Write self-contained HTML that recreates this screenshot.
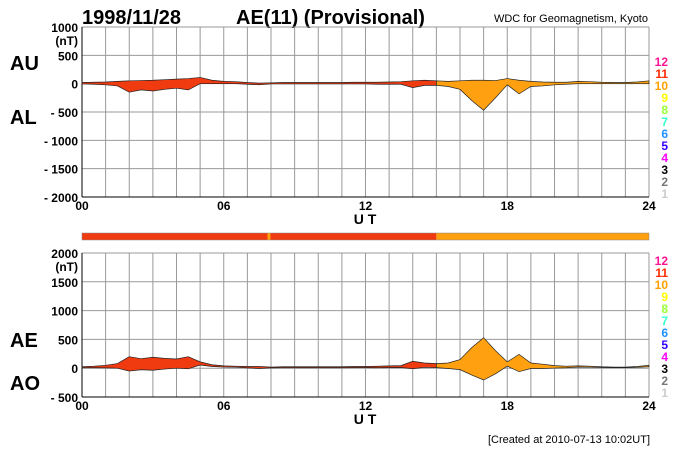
<!DOCTYPE html>
<html><head><meta charset="utf-8"><style>
body{margin:0;background:#fff;width:700px;height:450px;overflow:hidden}
svg text{font-family:"Liberation Sans",Arial,sans-serif;font-weight:bold}
</style></head><body>
<svg id="s" width="700" height="450" xmlns="http://www.w3.org/2000/svg">
<text x="82" y="24" font-size="20">1998/11/28</text>
<text x="236" y="24" font-size="20">AE(11) (Provisional)</text>
<text x="648" y="22" font-size="11" text-anchor="end" style="font-weight:normal">WDC for Geomagnetism, Kyoto</text>
<text x="10" y="70" font-size="20">AU</text>
<text x="10" y="124" font-size="20">AL</text>
<text x="10" y="347" font-size="20">AE</text>
<text x="10" y="390" font-size="20">AO</text>
<text x="650" y="443" font-size="11" text-anchor="end" style="font-weight:normal">[Created at 2010-07-13 10:02UT]</text>
</svg>
<script>
const hours=[0,0.5,1,1.5,2,2.5,3,3.5,4,4.5,5,5.5,6,6.5,7,7.5,8,8.5,9,9.5,10,10.5,11,11.5,12,12.5,13,13.5,14,14.5,15,15.5,16,16.5,17,17.5,18,18.5,19,19.5,20,20.5,21,21.5,22,22.5,23,23.5,24];
const au=[20,25,30,40,50,55,60,70,80,90,110,60,40,35,20,10,15,20,20,20,20,20,20,25,25,25,30,35,50,60,50,40,50,60,60,55,90,60,40,30,25,25,40,35,25,20,20,30,50];
const al=[-5,-10,-20,-40,-150,-110,-130,-100,-80,-110,0,0,0,0,-10,-20,-5,-5,-5,-5,-5,-5,-5,-5,-5,-10,-10,-10,-70,-30,-30,-50,-100,-300,-470,-250,-20,-180,-50,-40,-20,-10,0,0,0,0,0,0,0];
const xTicks=["00","06","12","18","24"];
const topTicks=[1000,500,0,-500,-1000,-1500,-2000];
const botTicks=[2000,1500,1000,500,0,-500];
const levels=["12","11","10","9","8","7","6","5","4","3","2","1"];
const levelColors=["#ff1493","#ff2a00","#ffa000","#ffff00","#99ff33","#33ffcc","#1e90ff","#3300ff","#ff00ff","#000","#777","#ccc"];
const NS="http://www.w3.org/2000/svg",S=document.getElementById('s');
const X0=82,X1=649;
const x=h=>X0+(X1-X0)*h/24;
function mk(t,a,p){const e=document.createElementNS(NS,t);for(const k in a)e.setAttribute(k,a[k]);(p||S).appendChild(e);return e;}
function txt(s,a,name){const e=mk('text',a);e.textContent=s;

return e;}
function panel(top,bot,vmax,vmin,ticks,upper,lower,nm,legY){
 const y=v=>top+(vmax-v)/(vmax-vmin)*(bot-top);
 const g=mk('g',{});
 
 
 for(let h=0;h<=24;h++)mk('line',{x1:x(h),x2:x(h),y1:top,y2:bot,stroke:'#999','stroke-width':1},g);
 for(let v=vmin;v<=vmax;v+=500)mk('line',{x1:X0,x2:X1,y1:y(v),y2:y(v),stroke:'#999','stroke-width':1},g);
 mk('line',{x1:X0,x2:X0,y1:top,y2:bot,stroke:'#000','stroke-width':1},g);
 mk('line',{x1:X0,x2:X1,y1:bot,y2:bot,stroke:'#000','stroke-width':1},g);
 [[0,15,'#f03a10'],[15,24,'#ffa010']].forEach(([a,b,c])=>{
  const idx=hours.map((h,i)=>i).filter(i=>hours[i]>=a&&hours[i]<=b);
  let d='M'+idx.map(i=>x(hours[i])+','+y(upper[i])).join(' L')+' L'+idx.slice().reverse().map(i=>x(hours[i])+','+y(lower[i])).join(' L')+'Z';
  const p=mk('path',{d:d,fill:c,stroke:'#222','stroke-width':0.7},g);
  
  
 });
 ticks.forEach(v=>{txt((v<0?'- ':'')+Math.abs(v),{x:78,y:y(v)+5,'font-size':12,'text-anchor':'end'},'y-tick-label');});
 txt('(nT)',{x:78,y:y(vmax)+18,'font-size':12,'text-anchor':'end'},'y-unit');
 xTicks.forEach((t,i)=>txt(t,{x:x(i*6),y:bot+13,'font-size':12,'text-anchor':'middle'},'x-tick-label'));
 txt('U T',{x:365,y:bot+27,'font-size':14,'text-anchor':'middle'},'x-axis-title');
 levels.forEach((l,i)=>txt(l,{x:668,y:legY+i*12,'font-size':12,'text-anchor':'end',fill:levelColors[i]},'level-legend'));
}
panel(27,197,1000,-2000,topTicks,au,al,'au-al',66);
const ae=au.map((v,i)=>v-al[i]),ao=au.map((v,i)=>(v+al[i])/2);
panel(253,397,2000,-500,botTicks,ae,ao,'ae-ao',265);
const bar=mk('g',{});


mk('rect',{x:x(0),y:233,width:x(15)-x(0),height:7,fill:'#f03a10'},bar);
mk('rect',{x:x(15),y:233,width:x(24)-x(15),height:7,fill:'#ffa010'},bar);
mk('rect',{x:x(7.85),y:233,width:3,height:7,fill:'#ffa010'},bar);
mk('rect',{x:x(0),y:233,width:x(24)-x(0),height:7,fill:'none',stroke:'#888','stroke-width':0.5},bar);
</script>
</body></html>
